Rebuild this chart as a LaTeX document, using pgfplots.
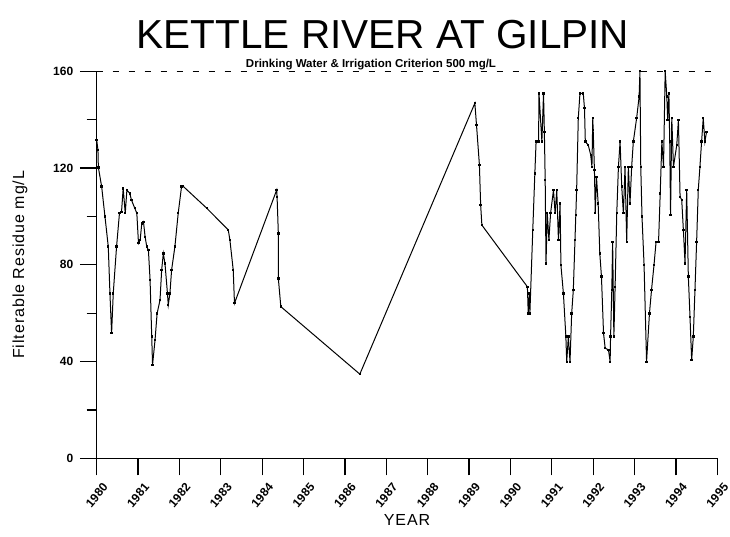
\documentclass[border=0pt]{standalone}
\usepackage{pgfplots}
\pgfplotsset{compat=1.18}
\usepackage{fontspec}
\setmainfont{Liberation Sans}
\newfontfamily\spaced[LetterSpace=6]{Liberation Sans}

\begin{document}
\begin{tikzpicture}
	\useasboundingbox (-96.7pt,-78.7pt) rectangle (633.3pt,458.3pt);
	\begin{axis}[at={(0,0)}, anchor=south west,
		scale only axis, width=620.6pt, height=387pt,
		xmin=1980, xmax=1995, ymin=0, ymax=160,
		axis x line*=bottom, axis y line*=left,
		axis line style={line width=1.3pt},
		xtick={1980,1981,...,1995},
		ytick={0,40,80,120,160},
		minor ytick={20,60,100,140},
		tick align=outside,
		major tick length=17pt, minor tick length=10pt,
		tick style={black, line width=1.2pt},
		/pgf/number format/1000 sep={},
		/pgf/number format/assume math mode=true,
		ticklabel style={font=\bfseries\fontsize{12}{14}\selectfont},
		xticklabel style={rotate=50, anchor=center, inner sep=0pt},
		xticklabel shift=20pt,
		yticklabel style={xshift=-3pt},
		xlabel={YEAR},
		ylabel={Filterable Residue mg/L},
		xlabel style={at={(axis description cs:0.5,0)}, anchor=center, yshift=-61.7pt, font=\spaced\fontsize{16}{18}\selectfont},
		ylabel style={at={(axis description cs:0,0.5)}, anchor=center, yshift=76.7pt, font=\spaced\fontsize{16}{18}\selectfont},
		clip=false,
		]
		
		% criterion line
		\addplot[black, line width=1.2pt, dash pattern=on 6pt off 10pt] coordinates {
			(1980, 160) (1994.85, 160)
		};
		
		% filterable residue
		\addplot[black, line width=1pt, mark=square*, mark size=0.7pt] coordinates {
			(1980.00, 131.6) (1980.03, 127.5) (1980.04, 120.3) (1980.12, 112.3)
			(1980.20, 99.9) (1980.28, 87.5) (1980.32, 68.2) (1980.36, 51.7)
			(1980.40, 68.2) (1980.48, 87.5) (1980.55, 101.3) (1980.60, 101.9)
			(1980.64, 111.6) (1980.69, 101.3) (1980.73, 110.9) (1980.80, 109.5)
			(1980.84, 106.8) (1980.92, 103.4) (1980.97, 101.3) (1981.01, 88.9)
			(1981.05, 90.2) (1981.09, 97.1) (1981.13, 97.8) (1981.17, 91.6)
			(1981.21, 87.5) (1981.25, 86.1) (1981.29, 73.7) (1981.33, 50.3)
			(1981.35, 38.6) (1981.41, 48.9) (1981.46, 59.9) (1981.53, 65.4)
			(1981.57, 77.8) (1981.61, 84.7) (1981.65, 80.6) (1981.71, 68.2)
			(1981.73, 63.4) (1981.77, 68.2) (1981.81, 77.8) (1981.89, 87.5)
			(1981.97, 101.3) (1982.05, 112.3) (1982.08, 112.6)
			(1982.66, 103.4) (1983.18, 94.4) (1983.22, 90.2) (1983.30, 77.8)
			(1983.33, 64.1)
			(1984.35, 110.9) (1984.36, 108.1) (1984.39, 93.0) (1984.39, 74.4)
			(1984.45, 62.7)
			(1986.36, 34.8)
			(1989.14, 146.8) (1989.18, 137.8) (1989.25, 121.3) (1989.28, 104.7)
			(1989.31, 96.4)
			(1990.41, 70.9) (1990.43, 59.9) (1990.46, 68.2) (1990.47, 59.9)
			(1990.54, 94.4) (1990.59, 117.8) (1990.62, 130.9) (1990.68, 130.9)
			(1990.69, 150.9) (1990.76, 131.0) (1990.80, 150.9) (1990.82, 135.0)
			(1990.84, 115.0) (1990.86, 80.6) (1990.89, 101.3) (1990.93, 90.2)
			(1990.97, 101.3) (1991.04, 110.9) (1991.08, 101.3) (1991.12, 110.9)
			(1991.16, 90.2) (1991.20, 105.4) (1991.22, 79.9) (1991.28, 68.2)
			(1991.34, 50.3) (1991.36, 39.9) (1991.40, 50.3) (1991.44, 39.9)
			(1991.48, 59.9) (1991.52, 69.6) (1991.56, 90.2) (1991.58, 100.6)
			(1991.60, 110.9) (1991.64, 140.6) (1991.68, 150.9) (1991.76, 150.9)
			(1991.79, 144.7) (1991.81, 130.9) (1991.88, 129.5) (1991.94, 125.4)
			(1991.97, 120.5) (1991.99, 140.6) (1992.00, 135.7) (1992.03, 119.2)
			(1992.05, 101.3) (1992.08, 116.4) (1992.12, 105.4) (1992.16, 84.7)
			(1992.20, 75.1) (1992.25, 51.7) (1992.29, 45.5) (1992.37, 44.8)
			(1992.41, 39.9) (1992.42, 50.3) (1992.45, 69.6) (1992.47, 89.5)
			(1992.50, 50.3) (1992.53, 70.9) (1992.57, 101.3) (1992.61, 120.5)
			(1992.65, 130.9) (1992.69, 112.3) (1992.73, 101.3) (1992.77, 120.5)
			(1992.81, 89.5) (1992.85, 120.5) (1992.89, 105.4) (1992.93, 120.5)
			(1992.97, 130.9) (1993.05, 140.6) (1993.11, 149.5) (1993.13, 160.0)
			(1993.15, 120.5) (1993.18, 99.9) (1993.23, 79.9) (1993.29, 39.9)
			(1993.36, 59.9) (1993.41, 69.6) (1993.47, 79.9) (1993.52, 89.5)
			(1993.58, 89.5) (1993.62, 109.5) (1993.66, 130.9) (1993.70, 120.5)
			(1993.74, 160.0) (1993.78, 149.5) (1993.80, 139.9) (1993.83, 150.9)
			(1993.85, 130.9) (1993.87, 100.6) (1993.90, 140.6) (1993.94, 120.5)
			(1994.02, 129.5) (1994.06, 139.9) (1994.10, 108.1) (1994.14, 106.8)
			(1994.18, 94.4) (1994.22, 80.6) (1994.26, 110.9) (1994.30, 75.1)
			(1994.34, 58.5) (1994.38, 40.6) (1994.42, 50.3) (1994.46, 69.6)
			(1994.50, 89.5) (1994.54, 110.9) (1994.58, 120.5) (1994.62, 130.9)
			(1994.66, 140.6) (1994.70, 130.9) (1994.74, 135.0)
		};
		
	\end{axis}
	\node[anchor=base, font=\fontsize{40.5}{44}\selectfont] at (286.3pt,409.3pt) {KETTLE RIVER AT GILPIN};
	\node[anchor=base, font=\bfseries\fontsize{11.5}{13}\selectfont] at (274.3pt,390.3pt) {Drinking Water \& Irrigation Criterion 500 mg/L};
\end{tikzpicture}
\end{document}
